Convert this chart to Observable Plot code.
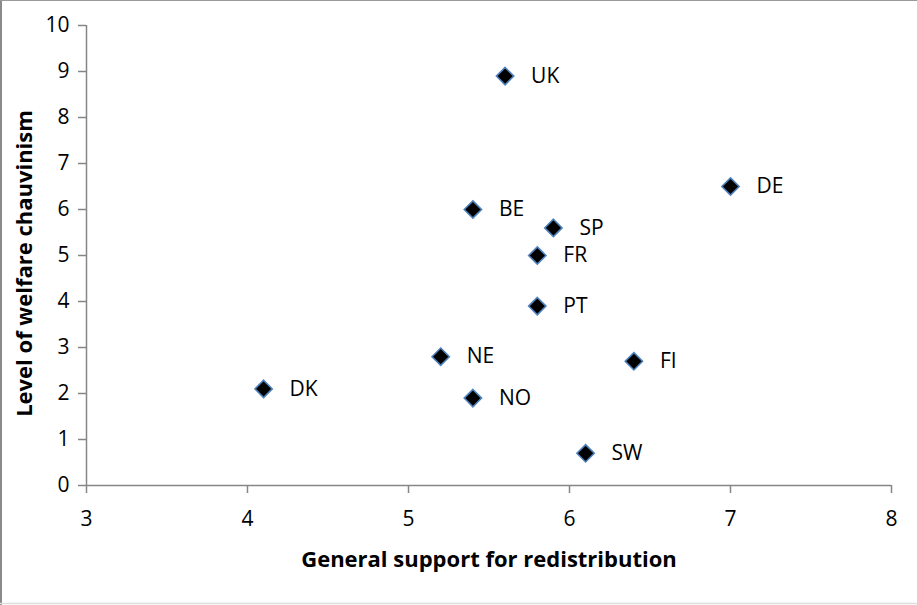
<!DOCTYPE html>
<html>
<head>
<meta charset="utf-8">
<script src="https://cdn.jsdelivr.net/npm/d3@7"></script>
<script src="https://cdn.jsdelivr.net/npm/@observablehq/plot@0.6"></script>
<style>
  html, body { margin: 0; padding: 0; background: #fff; }
  #chart { width: 917px; height: 605px; }
</style>
</head>
<body>
<div id="chart"></div>
<script>
const countries = ["UK", "DE", "BE", "SP", "FR", "PT", "NE", "FI", "DK", "NO", "SW"];
const redistribution = [5.6, 7.0, 5.4, 5.9, 5.8, 5.8, 5.2, 6.4, 4.1, 5.4, 6.1];
const chauvinism = [8.9, 6.5, 6.0, 5.6, 5.0, 3.9, 2.8, 2.7, 2.1, 1.9, 0.7];
const xTicks = [3, 4, 5, 6, 7, 8];
const yTicks = [0, 1, 2, 3, 4, 5, 6, 7, 8, 9, 10];
const xTitle = "General support for redistribution";
const yTitle = "Level of welfare chauvinism";

const data = countries.map((c, i) => ({country: c, x: redistribution[i], y: chauvinism[i]}));

const font = "'Open Sans', sans-serif";
const axisColor = "#868686";

const plot = Plot.plot({
  width: 917,
  height: 605,
  marginLeft: 86,
  marginRight: 26,
  marginTop: 25,
  marginBottom: 120,
  style: {fontFamily: font, fontSize: "21px", color: "#000", background: "#fff"},
  x: {domain: [3, 8]},
  y: {domain: [0, 10]},
  marks: [
    Plot.ruleY([0], {stroke: axisColor, strokeWidth: 1.5}),
    Plot.ruleX([3], {stroke: axisColor, strokeWidth: 1.5}),
    Plot.axisX(xTicks, {tickSize: 8, tickPadding: 18, tickFormat: "d", stroke: axisColor, strokeWidth: 1.5, fill: "#000", fontSize: 21, label: null}),
    Plot.axisY(yTicks, {tickSize: 8, tickPadding: 9, tickFormat: "d", stroke: axisColor, strokeWidth: 1.5, fill: "#000", fontSize: 21, label: null}),
    Plot.text([xTitle], {frameAnchor: "bottom", dy: 81, fontWeight: "bold", fontSize: 22, fill: "#000"}),
    Plot.text([yTitle], {frameAnchor: "left", textAnchor: "middle", dx: -62, dy: 8, rotate: -90, fontWeight: "bold", fontSize: 22, fill: "#000"}),
    Plot.dot(data, {x: "x", y: "y", symbol: "diamond2", r: 7.8, fill: "#000", stroke: "#4f81bd", strokeWidth: 1.6}),
    Plot.text(data, {x: "x", y: "y", text: "country", dx: 26, textAnchor: "start", fontSize: 21, fill: "#000"})
  ]
});

const svg = d3.select(plot);
svg.append("line").attr("x1", 1).attr("x2", 1).attr("y1", 0).attr("y2", 605).attr("stroke", "#8a8a8a").attr("stroke-width", 2);
svg.append("line").attr("x1", 0).attr("x2", 917).attr("y1", 0.5).attr("y2", 0.5).attr("stroke", "#9a9a9a").attr("stroke-width", 1);
svg.append("line").attr("x1", 0).attr("x2", 917).attr("y1", 603.5).attr("y2", 603.5).attr("stroke", "#dddddd").attr("stroke-width", 1.5);

document.getElementById("chart").appendChild(plot);
</script>
</body>
</html>
